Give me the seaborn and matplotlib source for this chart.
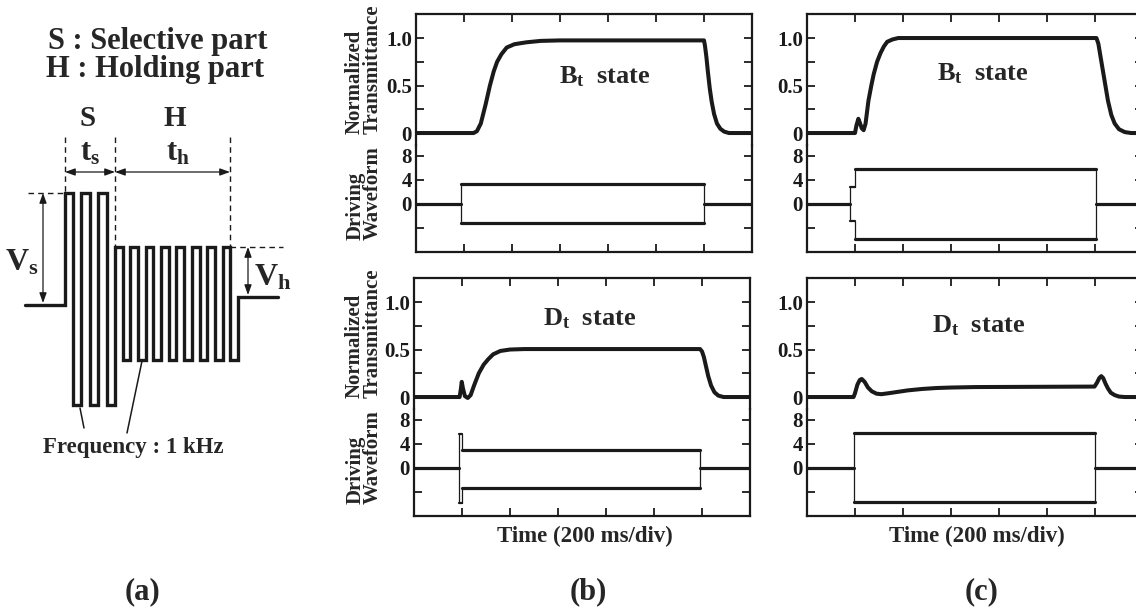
import numpy as np
import pandas as pd
import matplotlib
matplotlib.use("Agg")
import matplotlib.pyplot as plt
import seaborn as sns

# ---------------- data (time in divisions of 200 ms) ----------------
b_Bt_time = [0, 1.20, 1.27, 1.35, 1.45, 1.54, 1.62, 1.69, 1.78, 1.89, 2.05, 2.3, 2.6, 3.0,
             6.0, 6.02, 6.05, 6.08, 6.12, 6.16, 6.21, 6.27, 6.34, 6.42, 6.52, 7.0]
b_Bt_trans = [0, 0, 0.02, 0.10, 0.30, 0.50, 0.65, 0.75, 0.83, 0.90, 0.935, 0.955, 0.97, 0.975,
              0.975, 0.92, 0.80, 0.65, 0.47, 0.33, 0.20, 0.10, 0.045, 0.015, 0.0, 0]

b_Dt_time = [0, 0.95, 0.975, 0.995, 1.02, 1.06, 1.12, 1.18, 1.25, 1.35, 1.45, 1.55, 1.65, 1.8,
             2.0, 2.3, 5.96, 6.0, 6.04, 6.08, 6.13, 6.19, 6.26, 6.34, 6.45, 7.0]
b_Dt_trans = [0, 0, 0.08, 0.16, 0.09, 0.01, -0.01, 0.02, 0.12, 0.25, 0.34, 0.40, 0.45, 0.485,
              0.50, 0.505, 0.505, 0.48, 0.42, 0.33, 0.22, 0.12, 0.05, 0.015, 0, 0]

c_Bt_time = [0, 1.0, 1.03, 1.07, 1.10, 1.14, 1.18, 1.22, 1.28, 1.34, 1.39, 1.46, 1.53, 1.60,
             1.67, 1.78, 1.9, 6.03, 6.07, 6.13, 6.20, 6.27, 6.34, 6.41, 6.50, 6.62, 6.75, 7.0]
c_Bt_trans = [0, 0, 0.08, 0.15, 0.11, 0.05, 0.03, 0.10, 0.34, 0.50, 0.62, 0.75, 0.84, 0.91,
              0.96, 0.985, 1.0, 1.0, 0.94, 0.76, 0.55, 0.34, 0.19, 0.10, 0.04, 0.01, 0, 0]

c_Dt_time = [0, 0.97, 1.0, 1.05, 1.10, 1.14, 1.20, 1.27, 1.35, 1.45, 1.55, 1.7, 1.9, 2.1, 2.4,
             2.7, 3.0, 3.5, 5.99, 6.04, 6.09, 6.13, 6.17, 6.22, 6.27, 6.33, 6.41, 6.5, 6.62, 7.0]
c_Dt_trans = [0, 0, 0.04, 0.13, 0.18, 0.19, 0.16, 0.10, 0.06, 0.035, 0.03, 0.04, 0.055, 0.07,
              0.085, 0.095, 0.10, 0.105, 0.11, 0.15, 0.20, 0.22, 0.20, 0.14, 0.09, 0.045, 0.02,
              0.005, 0, 0]

# driving waveform envelopes: [selective start, holding start, end] (div) and levels (V)
b_Bt_wave_times = [0.94, 0.94, 6.0]
b_Bt_wave_sel = [3.3, -3.1]
b_Bt_wave_hold = [3.3, -3.1]
b_Dt_wave_times = [0.93, 1.01, 5.96]
b_Dt_wave_sel = [5.7, -5.9]
b_Dt_wave_hold = [2.95, -3.3]
c_Bt_wave_times = [0.90, 1.0, 6.03]
c_Bt_wave_sel = [2.9, -2.8]
c_Bt_wave_hold = [5.9, -5.9]
c_Dt_wave_times = [0.98, 0.98, 5.99]
c_Dt_wave_sel = [0, 0]
c_Dt_wave_hold = [5.8, -5.7]

trans_ticks = [0, 0.25, 0.5, 0.75, 1.0]
trans_ticklabels = ["0", "", "0.5", "", "1.0"]
wave_ticks = [-4, 0, 4, 8]
wave_ticklabels = ["", "0", "4", "8"]

# schematic (a): drawing coordinates
schem_sel_edges = [65, 73, 81, 90, 98, 107, 115]
schem_hold_edges = [115, 123, 130, 138, 146, 153, 161, 169, 176, 184, 192, 200, 207, 215,
                    223, 230, 238]
schem_base_left = 305
schem_base_right = 297
schem_sel_high = 193
schem_sel_low = 405
schem_hold_high = 247
schem_hold_low = 360

# ---------------- style ----------------
sns.set_theme(style="ticks")
plt.rcParams["font.family"] = ["Liberation Serif", "DejaVu Serif"]
plt.rcParams["font.weight"] = "bold"
plt.rcParams["mathtext.fontset"] = "custom"
plt.rcParams["mathtext.rm"] = "Liberation Serif:bold"
plt.rcParams["mathtext.it"] = "Liberation Serif:bold"
plt.rcParams["mathtext.bf"] = "Liberation Serif:bold"

W, H = 1136, 615
fig = plt.figure(figsize=(W / 100, H / 100), dpi=100)


def rect(left, top, right, bottom):
    return [left / W, 1 - bottom / H, (right - left) / W, (bottom - top) / H]


def line(ax, xs, ys, lw, **kw):
    sns.lineplot(x=xs, y=ys, ax=ax, color="k", lw=lw, sort=False, estimator=None, **kw)


def draw_wave(ax, times, sel, hold):
    ts, th, te = times
    thick, thin = 2.3, 0.9
    line(ax, [0, ts], [0, 0], thick)
    line(ax, [te, 7], [0, 0], thick)
    for k in (0, 1):
        if th > ts:
            line(ax, [ts, th], [sel[k], sel[k]], 1.6)
        line(ax, [th, te], [hold[k], hold[k]], thick)
        if sel[k] != 0:
            line(ax, [ts, ts], [0, sel[k]], thin)
        line(ax, [th, th], [sel[k], hold[k]], thin)
        line(ax, [te, te], [hold[k], 0], thin)


def style_axes(ax_t, ax_w):
    for ax in (ax_t, ax_w):
        ax.set_xlim(0, 7)
        ax.set_xticks(range(1, 7))
        ax.tick_params(direction="in", length=6, width=1.3, top=True, right=True,
                       bottom=True, left=True, labelbottom=False, labelleft=True,
                       labelsize=15, pad=3, colors="k")
        for s in ax.spines.values():
            s.set_linewidth(1.6)
            s.set_color("k")
        ax.set_xlabel("")
        ax.set_ylabel("")
        ax.patch.set_alpha(0)
    ax_t.spines["bottom"].set_visible(False)
    ax_t.tick_params(bottom=False)
    ax_w.spines["top"].set_visible(False)
    ax_w.tick_params(top=False)
    ax_t.set_ylim(-0.126, 1.253)
    ax_t.set_yticks(trans_ticks)
    ax_t.set_yticklabels(trans_ticklabels)
    ax_w.set_ylim(-8, 9.83)
    ax_w.set_yticks(wave_ticks)
    ax_w.set_yticklabels(wave_ticklabels)


panels = [
    (416, 14, b_Bt_time, b_Bt_trans, b_Bt_wave_times, b_Bt_wave_sel, b_Bt_wave_hold),
    (414, 278, b_Dt_time, b_Dt_trans, b_Dt_wave_times, b_Dt_wave_sel, b_Dt_wave_hold),
    (807, 14, c_Bt_time, c_Bt_trans, c_Bt_wave_times, c_Bt_wave_sel, c_Bt_wave_hold),
    (807, 278, c_Dt_time, c_Dt_trans, c_Dt_wave_times, c_Dt_wave_sel, c_Dt_wave_hold),
]

for left, top, tt, tv, wt, ws, wh in panels:
    ax_w = fig.add_axes(rect(left, top + 131, left + 336, top + 238))
    ax_t = fig.add_axes(rect(left, top, left + 336, top + 131))
    sns.lineplot(x=tt, y=tv, ax=ax_t, color="k", lw=2.9, sort=False, estimator=None,
                 solid_joinstyle="round", solid_capstyle="round")
    draw_wave(ax_w, wt, ws, wh)
    style_axes(ax_t, ax_w)


def ftext(x, y, s, **kw):
    fig.text(x / W, 1 - y / H, s, **kw)


# y-axis labels (panel b only)
for top in (14, 278):
    ftext(364, top + 120, "Normalized\nTransmittance", rotation=90, ha="center", va="bottom",
          multialignment="left", fontsize=15, linespacing=0.85)
    ftext(364, top + 226, "Driving\nWaveform", rotation=90, ha="center", va="bottom",
          multialignment="left", fontsize=15, linespacing=0.85)

ftext(605, 83, r"$B_t$  state", ha="center", va="baseline", fontsize=19)
ftext(983, 80, r"$B_t$  state", ha="center", va="baseline", fontsize=19)
ftext(590, 325, r"$D_t$  state", ha="center", va="baseline", fontsize=19)
ftext(979, 332, r"$D_t$  state", ha="center", va="baseline", fontsize=19)

ftext(585, 536, "Time (200 ms/div)", ha="center", va="center", fontsize=16.5)
ftext(977, 536, "Time (200 ms/div)", ha="center", va="center", fontsize=16.5)

ftext(143, 592, "(a)", ha="center", va="center", fontsize=22)
ftext(588, 592, "(b)", ha="center", va="center", fontsize=22)
ftext(982, 592, "(c)", ha="center", va="center", fontsize=22)

# ---------------- panel (a): schematic ----------------
ax_a = fig.add_axes([0, 0, 300 / W, 1])
ax_a.set_xlim(0, 300)
ax_a.set_ylim(615, 0)
ax_a.axis("off")

xs = [25, schem_sel_edges[0]]
ys = [schem_base_left, schem_base_left]
for i in range(len(schem_sel_edges) - 1):
    lvl = schem_sel_high if i % 2 == 0 else schem_sel_low
    xs += [schem_sel_edges[i], schem_sel_edges[i + 1]]
    ys += [lvl, lvl]
for i in range(len(schem_hold_edges) - 1):
    lvl = schem_hold_high if i % 2 == 0 else schem_hold_low
    xs += [schem_hold_edges[i], schem_hold_edges[i + 1]]
    ys += [lvl, lvl]
xs += [schem_hold_edges[-1], 278]
ys += [schem_base_right, schem_base_right]
sns.lineplot(x=xs, y=ys, ax=ax_a, color="k", lw=2.4, sort=False, estimator=None,
             solid_joinstyle="miter")

dash = dict(color="k", lw=1.0, ls=(0, (4, 3)))
ax_a.plot([65, 65], [137, 193], **dash)
ax_a.plot([115, 115], [137, 247], **dash)
ax_a.plot([230, 230], [137, 247], **dash)
ax_a.plot([28, 65], [193, 193], **dash)
ax_a.plot([230, 283], [247, 247], **dash)

arr = dict(arrowstyle="<|-|>,head_length=0.5,head_width=0.18", color="k", lw=0.9,
           shrinkA=0, shrinkB=0)
ax_a.annotate("", xy=(65, 172), xytext=(115, 172), arrowprops=arr)
ax_a.annotate("", xy=(115, 172), xytext=(230, 172), arrowprops=arr)
ax_a.annotate("", xy=(43, 193), xytext=(43, 303), arrowprops=arr)
ax_a.annotate("", xy=(248, 247), xytext=(248, 295), arrowprops=arr)

ax_a.plot([80, 84], [408, 428], color="k", lw=1.1)
ax_a.plot([142, 127], [361, 433], color="k", lw=1.1)

ax_a.text(158, 42, "S : Selective part", ha="center", va="center", fontsize=22)
ax_a.text(155, 70, "H : Holding part", ha="center", va="center", fontsize=22)
ax_a.text(88, 118, "S", ha="center", va="center", fontsize=21)
ax_a.text(175, 118, "H", ha="center", va="center", fontsize=21)
ax_a.text(90, 153, r"$t_s$", ha="center", va="center", fontsize=22)
ax_a.text(178, 153, r"$t_h$", ha="center", va="center", fontsize=22)
ax_a.text(22, 263, r"$V_s$", ha="center", va="center", fontsize=23)
ax_a.text(273, 278, r"$V_h$", ha="center", va="center", fontsize=23)
ax_a.text(133, 447, "Frequency : 1 kHz", ha="center", va="center", fontsize=16.5)

fig.savefig("out.png", dpi=100, facecolor="white")
